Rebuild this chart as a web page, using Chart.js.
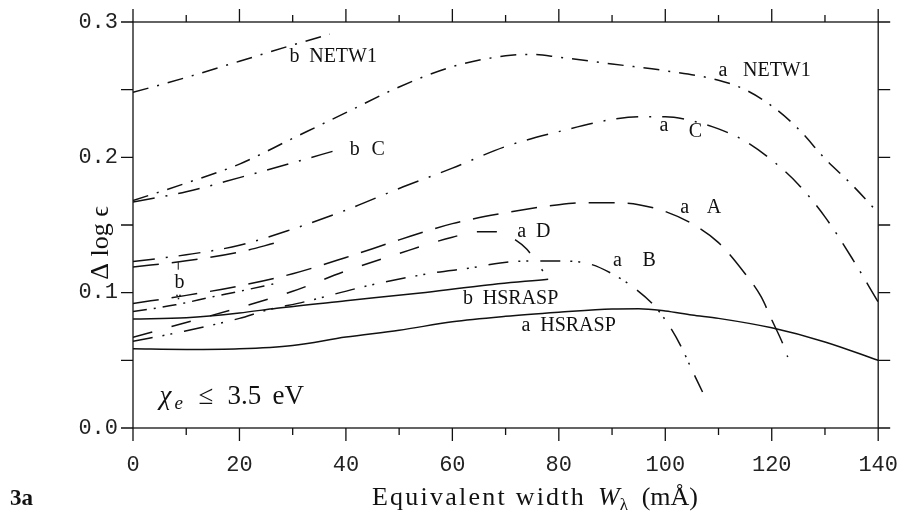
<!DOCTYPE html>
<html>
<head>
<meta charset="utf-8">
<script src="https://cdn.jsdelivr.net/npm/chart.js@4/dist/chart.umd.min.js"></script>
<style>
  html, body { margin: 0; padding: 0; background: #fff; }
  #wrap { width: 909px; height: 520px; }
</style>
</head>
<body>
<div id="wrap"><canvas id="fig"></canvas></div>
<script>
// curves (x = W in mA, y = delta log eps)
const bNetw1X = [0, 10, 20, 30, 37]
const bNetw1Y = [0.248, 0.259, 0.271, 0.283, 0.291]

const aNetw1X = [0, 10, 20, 30, 40, 50, 60, 70, 75, 80, 90, 100, 110, 115, 120, 125, 130, 135, 140]
const aNetw1Y = [0.168, 0.181, 0.195, 0.214, 0.233, 0.252, 0.267, 0.275, 0.276, 0.274, 0.269, 0.264, 0.257, 0.250, 0.238, 0.221, 0.199, 0.180, 0.159]

const bCX = [0, 10, 20, 30, 38]
const bCY = [0.167, 0.1745, 0.185, 0.196, 0.205]

const aCX = [0, 10, 20, 30, 40, 50, 60, 70, 80, 90, 95, 100, 105, 110, 115, 120, 125, 130, 135, 140]
const aCY = [0.123, 0.128, 0.135, 0.147, 0.161, 0.177, 0.192, 0.208, 0.219, 0.228, 0.230, 0.230, 0.227, 0.221, 0.212, 0.198, 0.180, 0.156, 0.126, 0.093]

const bAX = [0, 10, 20, 27]
const bAY = [0.119, 0.1235, 0.130, 0.137]

const aAX = [0, 10, 20, 30, 40, 50, 60, 70, 80, 85, 90, 95, 100, 105, 110, 115, 118, 120, 122, 123]
const aAY = [0.092, 0.098, 0.105, 0.114, 0.126, 0.139, 0.151, 0.159, 0.165, 0.1665, 0.1665, 0.165, 0.160, 0.151, 0.137, 0.114, 0.097, 0.080, 0.063, 0.0525]

const bDX = [0, 8, 15, 20, 27]
const bDY = [0.086, 0.091, 0.097, 0.101, 0.107]

const aDX = [0, 10, 20, 30, 40, 50, 60, 65, 68, 71, 74, 77]
const aDY = [0.067, 0.078, 0.089, 0.101, 0.116, 0.129, 0.141, 0.145, 0.145, 0.141, 0.132, 0.116]

const aBX = [0, 9, 20, 25, 32, 44, 57, 63, 69, 75, 81, 86, 90, 94, 98, 101, 103, 105, 107]
const aBY = [0.064, 0.071, 0.081, 0.087, 0.093, 0.105, 0.115, 0.118, 0.122, 0.1234, 0.1234, 0.121, 0.114, 0.104, 0.090, 0.074, 0.060, 0.043, 0.0266]

const bHsraspX = [0, 10, 20, 27, 40, 54, 65, 78]
const bHsraspY = [0.0805, 0.0815, 0.085, 0.0885, 0.094, 0.0998, 0.105, 0.110]

const aHsraspX = [0, 10, 20, 30, 40, 50, 60, 70, 80, 90, 95, 100, 105, 110, 120, 130, 140]
const aHsraspY = [0.0585, 0.058, 0.0585, 0.061, 0.0672, 0.0722, 0.0785, 0.0825, 0.0855, 0.088, 0.0882, 0.0865, 0.0835, 0.081, 0.074, 0.0636, 0.050]

const xTickLabels = ['0', '20', '40', '60', '80', '100', '120', '140']
const yTickLabels = ['0.0', '0.1', '0.2', '0.3']

// curve labels: prefix, name, where they sit (data coords)
const curveLabels = [
    ['b', 'NETW1', 29.4, 33.1, 0.274, 0.274],
    ['a', 'NETW1', 110, 114.6, 0.264, 0.264],
    ['b', 'C', 40.7, 44.8, 0.2055, 0.2055],
    ['a', 'C', 98.9, 104.4, 0.223, 0.219],
    ['a', 'A', 102.8, 107.8, 0.163, 0.163],
    ['a', 'D', 72.2, 75.7, 0.145, 0.145],
    ['a', 'B', 90.2, 95.7, 0.1234, 0.1234],
    ['b', 'HSRASP', 62, 65.7, 0.0953, 0.0953],
    ['a', 'HSRASP', 73, 76.5, 0.0754, 0.0754]
]

function pts(xs, ys) {
    return xs.map((x, i) => ({ x: x, y: ys[i] }))
}

function curve(name, xs, ys, dash) {
    return {
        label: name,
        data: pts(xs, ys),
        borderColor: '#111',
        borderWidth: 1.5,
        borderDash: dash,
        pointRadius: 0,
        fill: false,
        cubicInterpolationMode: 'monotone'
    }
}

const dashNetw = [16, 9, 2, 9]
const dashC = [22, 11, 2, 11]
const dashA = [26, 13]
const dashD = [20, 20]
const dashB = [20, 10, 2, 6, 2, 12]

const serif = '"Liberation Serif", "DejaVu Serif", serif'
const mono = '"Liberation Mono", "DejaVu Sans Mono", monospace'

// draw a string stretched to a given width with letter spacing
function spaced(ctx, text, x, y, width) {
    ctx.letterSpacing = '0px'
    const w0 = ctx.measureText(text).width
    const sp = Math.max(0, (width - w0) / text.length)
    ctx.letterSpacing = sp.toFixed(2) + 'px'
    ctx.fillText(text, x, y)
    ctx.letterSpacing = '0px'
}

// frame, outside ticks and all the text around the plot
const framePlugin = {
    id: 'frame',
    afterDraw(chart) {
        const ctx = chart.ctx
        const a = chart.chartArea
        const sx = chart.scales.x
        const sy = chart.scales.y
        ctx.save()
        ctx.strokeStyle = '#111'
        ctx.lineWidth = 1.3
        ctx.setLineDash([])
        ctx.strokeRect(a.left, a.top, a.right - a.left, a.bottom - a.top)

        ctx.beginPath()
        for (let v = 0; v <= 140; v += 10) {
            const px = sx.getPixelForValue(v)
            const len = v % 20 === 0 ? 13 : 7
            ctx.moveTo(px, a.bottom); ctx.lineTo(px, a.bottom + len)
            ctx.moveTo(px, a.top); ctx.lineTo(px, a.top - len)
        }
        for (let k = 0; k <= 6; k++) {
            const py = sy.getPixelForValue(k * 0.05)
            ctx.moveTo(a.left, py); ctx.lineTo(a.left - 12, py)
            ctx.moveTo(a.right, py); ctx.lineTo(a.right + 12, py)
        }
        ctx.stroke()

        // curve labels
        ctx.fillStyle = '#111'
        ctx.font = '20px ' + serif
        ctx.textBaseline = 'middle'
        ctx.textAlign = 'left'
        curveLabels.forEach(l => {
            ctx.fillText(l[0], sx.getPixelForValue(l[2]), sy.getPixelForValue(l[4]))
            ctx.fillText(l[1], sx.getPixelForValue(l[3]), sy.getPixelForValue(l[5]))
        })

        // the lone "b" with its leaders
        const bx = sx.getPixelForValue(8.5)
        ctx.fillText('b', sx.getPixelForValue(7.8), sy.getPixelForValue(0.107))
        ctx.lineWidth = 1
        ctx.beginPath()
        ctx.moveTo(bx, sy.getPixelForValue(0.1225))
        ctx.lineTo(bx, sy.getPixelForValue(0.117))
        ctx.stroke()
        ctx.fillRect(bx - 2, sy.getPixelForValue(0.0985), 1.5, 1.5)
        ctx.fillRect(bx + 1, sy.getPixelForValue(0.0985), 1.5, 1.5)
        ctx.fillRect(bx - 0.5, sy.getPixelForValue(0.0962), 1.5, 1.5)

        // chi_e <= 3.5 eV
        const x0 = sx.getPixelForValue(5)
        const yb = sy.getPixelForValue(0.0244) + 9
        ctx.textBaseline = 'alphabetic'
        ctx.font = 'italic 27px ' + serif
        ctx.fillText('\u03c7', x0, yb)
        ctx.font = 'italic 19px ' + serif
        ctx.fillText('e', x0 + 15, yb + 5)
        ctx.font = '27px ' + serif
        ctx.fillText('\u2264', x0 + 39, yb)
        ctx.fillText('3.5', x0 + 68, yb)
        ctx.fillText('eV', x0 + 113, yb)

        // x title
        const ty = 505
        ctx.font = '26px ' + serif
        spaced(ctx, 'Equivalent width', 372, ty, 214)
        let tx = 598
        ctx.font = 'italic 26px ' + serif
        ctx.fillText('W', tx, ty)
        tx += ctx.measureText('W').width
        ctx.font = '17px ' + serif
        ctx.fillText('\u03bb', tx, ty + 5)
        ctx.font = '26px ' + serif
        ctx.textAlign = 'right'
        ctx.fillText('(m\u00c5)', 698, ty)
        ctx.textAlign = 'left'

        ctx.font = 'bold 23px ' + serif
        ctx.fillText('3a', 10, ty)

        // y title
        ctx.translate(108, 243)
        ctx.rotate(-Math.PI / 2)
        ctx.textAlign = 'center'
        ctx.font = '26px ' + serif
        ctx.fillText('\u0394 log \u03f5', 0, 0)
        ctx.restore()
    }
}

new Chart(document.getElementById('fig'), {
    type: 'line',
    data: {
        datasets: [
            curve('b NETW1', bNetw1X, bNetw1Y, dashNetw),
            curve('a NETW1', aNetw1X, aNetw1Y, dashNetw),
            curve('b C', bCX, bCY, dashC),
            curve('a C', aCX, aCY, dashC),
            curve('b A', bAX, bAY, dashA),
            curve('a A', aAX, aAY, dashA),
            curve('b D', bDX, bDY, [14, 7, 2, 7]),
            curve('a D', aDX, aDY, dashD),
            curve('a B', aBX, aBY, dashB),
            curve('b HSRASP', bHsraspX, bHsraspY, []),
            curve('a HSRASP', aHsraspX, aHsraspY, [])
        ]
    },
    options: {
        responsive: true,
        maintainAspectRatio: false,
        animation: false,
        layout: { padding: { top: 22, right: 20, left: 0, bottom: 0 } },
        plugins: {
            legend: { display: false },
            tooltip: { enabled: false }
        },
        scales: {
            x: {
                type: 'linear',
                min: 0,
                max: 140,
                afterFit: s => { s.height = 92 },
                border: { display: false },
                grid: { drawOnChartArea: false, drawTicks: true, tickLength: 13, color: 'rgba(0,0,0,0)' },
                ticks: {
                    stepSize: 20,
                    padding: 11,
                    maxRotation: 0,
                    color: '#222',
                    font: { family: mono, size: 22 },
                    callback: v => xTickLabels[Math.round(v / 20)]
                }
            },
            y: {
                type: 'linear',
                min: 0,
                max: 0.3,
                afterFit: s => { s.width = 133 },
                border: { display: false },
                grid: { drawOnChartArea: false, drawTicks: true, tickLength: 12, color: 'rgba(0,0,0,0)' },
                ticks: {
                    stepSize: 0.1,
                    padding: 3,
                    color: '#222',
                    font: { family: mono, size: 22 },
                    callback: v => yTickLabels[Math.round(v * 10)]
                }
            }
        }
    },
    plugins: [framePlugin]
})
</script>
</body>
</html>
